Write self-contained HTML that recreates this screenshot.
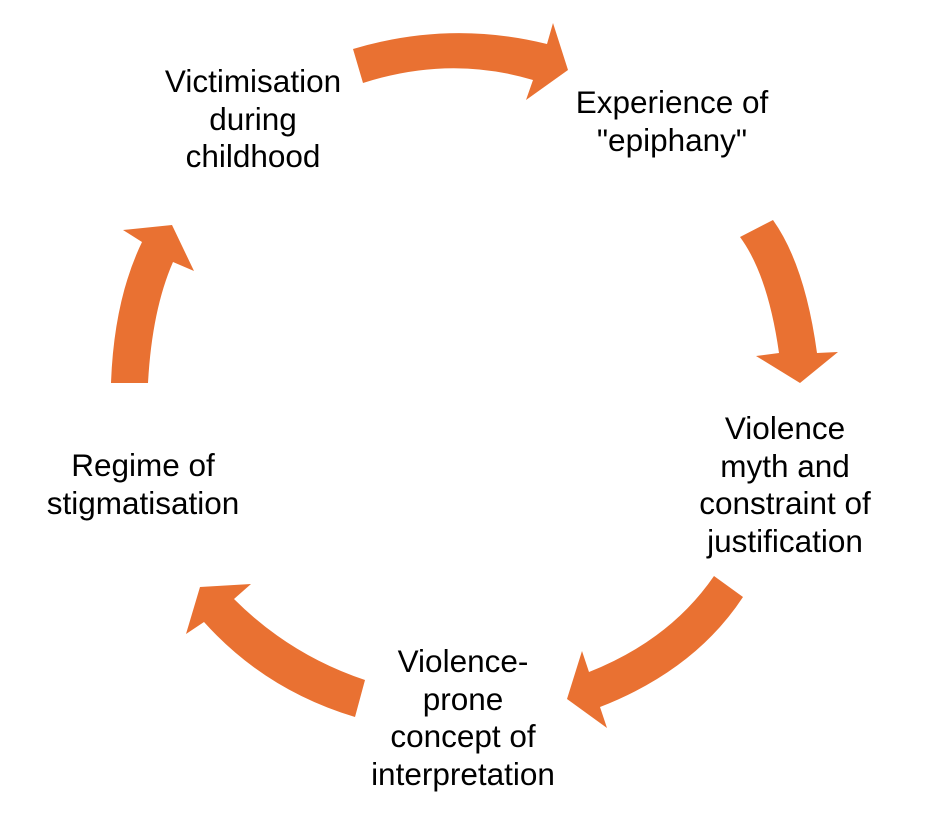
<!DOCTYPE html>
<html><head><style>
body{margin:0;width:928px;height:821px;background:#fff;position:relative;overflow:hidden;font-family:"Liberation Sans",sans-serif;}
.t{position:absolute;text-align:center;font-size:31.5px;line-height:37.5px;color:#000;transform:translateX(-50%);white-space:nowrap;}
</style></head><body>
<svg width="928" height="821" style="position:absolute;left:0;top:0">
<g fill="#E97132">
<path d="M353,49 Q450,20 547,44 L553,23 L568,70 L526,100 L533,80 Q450,55 363,83 Z"/>
<path d="M740,237 L773,220 Q805,265 817,353 L838,352 L800,383 L756,356 L779,353 Q768,275 740,237 Z"/>
<path d="M714,576 L743,597 Q695,670 600,707 L607,728 L567,699 L582,651 L589,672 Q670,640 714,576 Z"/>
<path d="M365,680 L355,717 Q265,690 204,622 L186,634 L200,587 L251,584 L234,599 Q290,655 365,680 Z"/>
<path d="M111,383 Q114,300 142,242 L123,230 L172,225 L194,271 L173,262 Q152,310 148,383 Z"/>
</g></svg>
<div class="t" style="left:253px;top:63px">Victimisation<br>during<br>childhood</div>
<div class="t" style="left:672px;top:84px">Experience of<br>"epiphany"</div>
<div class="t" style="left:785px;top:410px">Violence<br>myth and<br>constraint of<br>justification</div>
<div class="t" style="left:463px;top:643px">Violence-<br>prone<br>concept of<br>interpretation</div>
<div class="t" style="left:143px;top:447px">Regime of<br>stigmatisation</div>
</body></html>
